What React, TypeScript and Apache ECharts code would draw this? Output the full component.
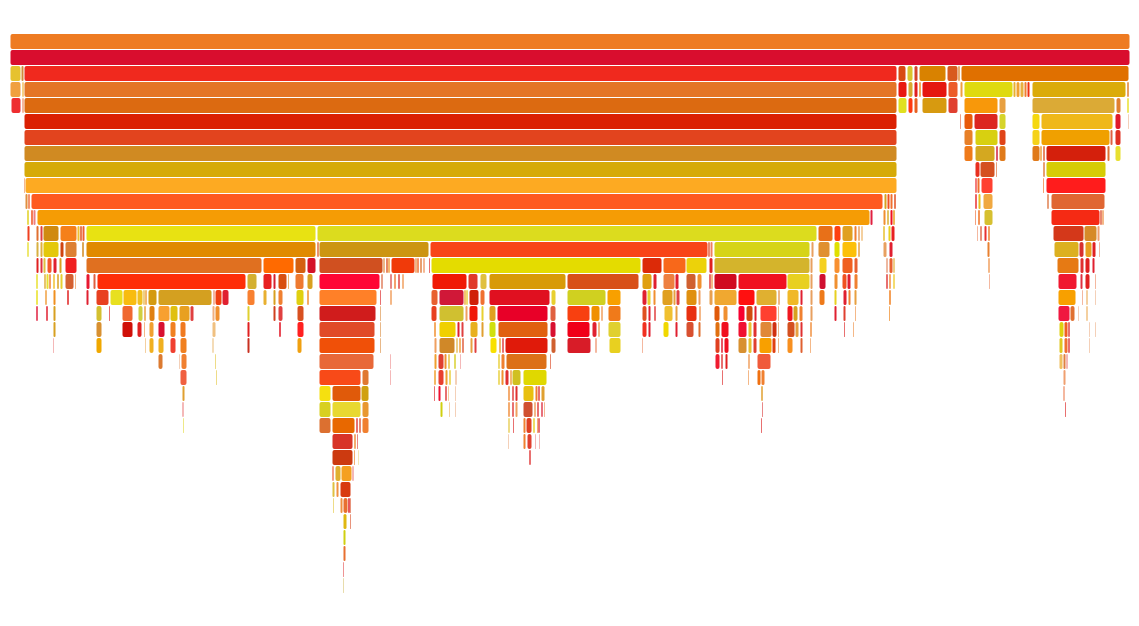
import React, { useEffect, useRef } from "react";
import * as echarts from "echarts";

// Flame graph: each level lists [startSample, endSample] spans (total 1120 samples)
const TOTAL_SAMPLES = 1120;
const DEPTH_SLOTS = 36;

const lv00 = [[0, 1120]];
const lv01 = [[0, 1120]];
const lv02 = [[0, 11], [11, 14], [14, 887], [888, 896], [897, 903], [904, 908], [909, 936], [937, 948], [948, 950], [951, 1119]];
const lv03 = [[0, 11], [12, 14], [14, 887], [888, 897], [898, 903], [904, 908], [909, 911], [912, 937], [938, 948], [950, 953], [954, 1003], [1003, 1006], [1006, 1010], [1010, 1014], [1014, 1017], [1017, 1020], [1022, 1116], [1117, 1119]];
const lv04 = [[1, 11], [12, 14], [14, 887], [888, 897], [898, 903], [904, 908], [912, 937], [938, 948], [954, 988], [989, 996], [1022, 1105], [1106, 1111], [1117, 1119]];
const lv05 = [[14, 887], [950, 951], [954, 963], [964, 988], [989, 996], [1022, 1030], [1031, 1103], [1105, 1111], [1118, 1119]];
const lv06 = [[14, 887], [954, 963], [965, 988], [989, 996], [1022, 1030], [1031, 1100], [1100, 1103], [1105, 1111]];
const lv07 = [[14, 887], [954, 963], [965, 985], [986, 988], [989, 996], [1022, 1030], [1030, 1032], [1033, 1035], [1036, 1096], [1097, 1100], [1105, 1111]];
const lv08 = [[14, 887], [965, 970], [970, 985], [986, 987], [1033, 1035], [1036, 1096]];
const lv09 = [[14, 15], [15, 887], [965, 967], [967, 970], [971, 983], [1033, 1034], [1036, 1096]];
const lv10 = [[15, 18], [18, 20], [21, 873], [874, 877], [877, 880], [880, 883], [884, 886], [965, 967], [968, 971], [973, 983], [1037, 1039], [1041, 1095]];
const lv11 = [[17, 19], [21, 23], [23, 26], [27, 860], [860, 863], [873, 876], [877, 879], [880, 883], [883, 885], [965, 966], [968, 970], [974, 983], [1041, 1090], [1090, 1092], [1092, 1094]];
const lv12 = [[17, 20], [26, 29], [30, 33], [33, 49], [50, 67], [67, 70], [70, 72], [72, 75], [76, 306], [307, 807], [808, 823], [824, 831], [832, 843], [844, 847], [848, 850], [851, 853], [873, 875], [878, 881], [881, 885], [967, 968], [970, 972], [974, 977], [978, 980], [1043, 1074], [1074, 1087], [1087, 1090]];
const lv13 = [[17, 19], [26, 29], [30, 33], [33, 49], [50, 54], [55, 67], [72, 74], [76, 306], [307, 309], [309, 419], [420, 698], [698, 700], [700, 703], [704, 800], [801, 804], [808, 820], [824, 830], [832, 847], [848, 850], [873, 877], [879, 883], [977, 980], [1044, 1069], [1069, 1074], [1075, 1082], [1082, 1086], [1089, 1090]];
const lv14 = [[26, 29], [30, 33], [33, 36], [37, 42], [43, 47], [49, 52], [55, 67], [76, 252], [253, 284], [285, 296], [297, 306], [309, 373], [373, 375], [376, 378], [378, 380], [381, 405], [405, 407], [407, 409], [410, 412], [413, 415], [419, 420], [421, 631], [632, 652], [653, 676], [676, 697], [699, 703], [704, 800], [800, 803], [809, 817], [824, 830], [832, 843], [844, 848], [876, 878], [879, 883], [883, 885], [978, 980], [1047, 1069], [1070, 1074], [1075, 1080], [1082, 1085]];
const lv15 = [[26, 28], [34, 36], [36, 39], [39, 41], [43, 45], [47, 49], [50, 53], [55, 64], [65, 66], [76, 80], [83, 86], [87, 236], [237, 247], [253, 262], [263, 266], [268, 277], [278, 279], [285, 294], [297, 303], [309, 370], [371, 373], [380, 382], [384, 386], [388, 390], [392, 394], [422, 457], [458, 468], [470, 477], [479, 556], [557, 629], [632, 642], [643, 647], [653, 665], [665, 669], [676, 686], [687, 692], [699, 701], [701, 703], [704, 727], [728, 777], [777, 800], [800, 803], [809, 816], [824, 828], [832, 837], [837, 841], [844, 848], [876, 878], [879, 881], [883, 885], [979, 980], [1048, 1067], [1070, 1073], [1075, 1080], [1085, 1086]];
const lv16 = [[26, 28], [35, 37], [43, 46], [57, 59], [76, 79], [86, 99], [100, 113], [113, 127], [127, 133], [133, 135], [135, 137], [138, 147], [148, 202], [203, 205], [205, 212], [212, 219], [237, 245], [253, 257], [263, 266], [268, 273], [286, 294], [297, 299], [309, 367], [370, 371], [380, 382], [421, 428], [429, 454], [454, 456], [456, 458], [459, 469], [470, 475], [479, 540], [541, 546], [557, 596], [597, 611], [632, 637], [637, 641], [643, 646], [652, 663], [663, 666], [666, 670], [676, 687], [688, 691], [699, 703], [704, 727], [728, 745], [746, 767], [768, 770], [777, 789], [790, 793], [800, 803], [809, 815], [824, 827], [833, 837], [838, 841], [844, 847], [879, 881], [1048, 1066], [1072, 1073], [1076, 1078], [1085, 1086]];
const lv17 = [[26, 28], [36, 38], [43, 46], [86, 92], [99, 100], [112, 123], [128, 133], [134, 136], [139, 145], [148, 160], [160, 168], [169, 180], [180, 184], [202, 205], [205, 210], [237, 240], [263, 266], [268, 273], [287, 294], [309, 366], [370, 371], [421, 427], [429, 454], [455, 458], [459, 468], [471, 474], [479, 486], [487, 538], [540, 546], [557, 580], [581, 590], [591, 593], [598, 611], [632, 637], [638, 641], [644, 646], [654, 663], [665, 668], [676, 687], [689, 691], [704, 710], [713, 718], [728, 735], [736, 743], [744, 747], [750, 767], [768, 769], [777, 783], [783, 788], [789, 793], [800, 803], [824, 827], [833, 836], [845, 846], [879, 880], [1048, 1060], [1060, 1065], [1068, 1069], [1076, 1078]];
const lv18 = [[43, 46], [86, 92], [112, 123], [127, 132], [134, 135], [139, 144], [148, 155], [160, 166], [170, 176], [202, 206], [237, 240], [269, 271], [287, 294], [309, 365], [370, 371], [424, 426], [429, 446], [447, 450], [451, 454], [460, 468], [471, 474], [479, 486], [488, 538], [540, 546], [557, 580], [582, 587], [588, 590], [598, 611], [632, 637], [638, 641], [653, 659], [665, 668], [676, 684], [688, 691], [705, 710], [711, 719], [728, 737], [738, 742], [743, 747], [750, 762], [762, 767], [768, 769], [777, 785], [785, 789], [790, 793], [800, 802], [834, 835], [843, 844], [1049, 1054], [1054, 1058], [1058, 1060], [1079, 1080], [1085, 1086]];
const lv19 = [[43, 44], [86, 92], [135, 136], [139, 144], [148, 154], [160, 166], [170, 177], [202, 204], [237, 240], [287, 292], [309, 365], [370, 371], [424, 427], [429, 445], [446, 448], [449, 451], [452, 454], [460, 463], [464, 467], [480, 487], [489, 491], [492, 494], [495, 538], [541, 546], [557, 581], [585, 587], [599, 611], [632, 633], [705, 710], [711, 713], [714, 719], [728, 737], [738, 742], [743, 747], [749, 762], [762, 766], [768, 769], [777, 783], [790, 793], [800, 801], [1049, 1053], [1054, 1058], [1058, 1060], [1079, 1080]];
const lv20 = [[148, 153], [169, 170], [171, 177], [205, 206], [309, 364], [380, 381], [424, 427], [428, 434], [434, 437], [438, 440], [444, 446], [450, 451], [488, 490], [491, 495], [496, 537], [540, 541], [705, 710], [711, 713], [715, 718], [738, 740], [747, 761], [1049, 1053], [1053, 1056], [1056, 1058]];
const lv21 = [[170, 177], [206, 207], [309, 351], [352, 359], [380, 381], [424, 426], [428, 434], [435, 438], [439, 441], [445, 447], [488, 490], [491, 494], [495, 499], [500, 502], [502, 511], [513, 537], [712, 713], [738, 739], [747, 751], [751, 755], [1053, 1056]];
const lv22 = [[172, 175], [309, 321], [322, 351], [351, 359], [424, 425], [428, 431], [435, 437], [438, 439], [445, 446], [498, 500], [502, 504], [505, 508], [513, 524], [525, 528], [528, 530], [531, 535], [751, 753], [1053, 1055]];
const lv23 = [[172, 174], [309, 321], [322, 351], [352, 359], [430, 433], [439, 440], [445, 446], [498, 500], [502, 504], [505, 508], [513, 523], [524, 526], [527, 529], [531, 533], [534, 535], [752, 753], [1055, 1056]];
const lv24 = [[173, 174], [309, 321], [322, 345], [346, 348], [349, 351], [352, 359], [498, 500], [503, 504], [513, 516], [516, 522], [523, 525], [527, 528], [528, 530], [751, 752]];
const lv25 = [[322, 343], [344, 346], [347, 348], [498, 499], [513, 516], [517, 522], [525, 526], [529, 530]];
const lv26 = [[322, 343], [344, 345], [348, 349], [519, 521]];
const lv27 = [[322, 324], [325, 331], [331, 342], [342, 344]];
const lv28 = [[322, 325], [326, 329], [330, 341]];
const lv29 = [[323, 324], [330, 333], [333, 338], [338, 340], [340, 341]];
const lv30 = [[333, 337], [340, 341]];
const lv31 = [[333, 336]];
const lv32 = [[333, 336]];
const lv33 = [[333, 334]];
const lv34 = [[333, 334]];

const levels = [lv00, lv01, lv02, lv03, lv04, lv05, lv06, lv07, lv08, lv09, lv10, lv11, lv12, lv13, lv14, lv15, lv16, lv17, lv18, lv19, lv20, lv21, lv22, lv23, lv24, lv25, lv26, lv27, lv28, lv29, lv30, lv31, lv32, lv33, lv34];

// Colours (styles), parallel to the span lists above
const cl00 = ["#ee7b22"];
const cl01 = ["#d90d2e"];
const cl02 = ["#e6c22f", "#d08a3a", "#f0291e", "#d84b12", "#d9c52d", "#d4452d", "#d98200", "#d85a1f", "#e09040", "#e07000"];
const cl03 = ["#f0a040", "#f0c060", "#e47526", "#e8190f", "#d8a830", "#e02020", "#f09020", "#e5170f", "#ec5b2a", "#f0a040", "#dfda0f", "#e8b030", "#f0a030", "#e8b040", "#f08030", "#f03010", "#dbab0a", "#e08030"];
const cl04 = ["#ee2e30", "#f0a080", "#dc6a11", "#e0e020", "#fe3a10", "#e86020", "#d79a10", "#e04030", "#f8980a", "#e8a040", "#dbaa36", "#e08030", "#e8e030"];
const cl05 = ["#db2002", "#e88060", "#e85a0a", "#dc2620", "#d6d42a", "#f5d80f", "#efb81a", "#e01a2a", "#f0c0a0"];
const cl06 = ["#e2441e", "#e88028", "#d8d010", "#e04418", "#f5d21a", "#f0a000", "#e06040", "#e03020"];
const cl07 = ["#d08a22", "#ef7a1a", "#d4a820", "#d02040", "#e07a1a", "#e07a1a", "#f0a040", "#e06030", "#d4200c", "#e07030", "#e8e030"];
const cl08 = ["#d6aa08", "#e83020", "#d45020", "#e08050", "#e08040", "#d6cc06"];
const cl09 = ["#f0a070", "#fdaa22", "#f05050", "#f07030", "#ff4030", "#f08040", "#ff1c1c"];
const cl10 = ["#e09040", "#f07040", "#fe5a20", "#d8a020", "#f05020", "#f07030", "#e05020", "#e83030", "#e8c020", "#f0a840", "#e08050", "#e06632"];
const cl11 = ["#e0d020", "#f05020", "#f08080", "#f59c05", "#e02040", "#f09030", "#d8b030", "#f01020", "#e8a020", "#f08050", "#f07020", "#d6c030", "#f52a14", "#e06040", "#f0a060"];
const cl12 = ["#f04020", "#e07030", "#e04040", "#d08a10", "#f5801a", "#f0c030", "#e05020", "#f06030", "#e8e212", "#dcdc1e", "#e87018", "#fe4010", "#e0a020", "#f08030", "#e8a060", "#f0c080", "#e8c030", "#e8d020", "#e82020", "#f0a080", "#e07050", "#e83030", "#f08030", "#d4381a", "#d68a28", "#f0a070"];
const cl13 = ["#e8e040", "#d8b040", "#e0b040", "#e4c80a", "#d04410", "#dd8033", "#d08a20", "#e08a00", "#e07040", "#cc9512", "#f84418", "#e06040", "#f08060", "#d6d418", "#e8a060", "#e09030", "#e0e000", "#fcc00a", "#e8a040", "#e8a060", "#e02030", "#e88030", "#dcb020", "#d83030", "#e8a020", "#e02020", "#f0a080"];
const cl14 = ["#e02020", "#e03040", "#e0c040", "#f55a2a", "#e02030", "#d8a020", "#f02020", "#e07020", "#ff6a00", "#d46010", "#d41228", "#d05020", "#e8a060", "#e06030", "#f0a040", "#f03a0a", "#e8a060", "#f07030", "#e08040", "#f0a070", "#e04040", "#e4dc00", "#dc2a08", "#f8681a", "#ecd20a", "#e02020", "#d4b42c", "#e8a060", "#f5d020", "#f89030", "#f06020", "#e86030", "#e8a080", "#e86030", "#e8c060", "#f0a060", "#e67a14", "#e03030", "#e02020", "#e02030"];
const cl15 = ["#e8e030", "#e0b040", "#e8e030", "#f08030", "#f0c030", "#d8a020", "#e8d030", "#d46030", "#f0a060", "#e81830", "#e06040", "#fe2e08", "#d4b030", "#e82020", "#d82030", "#d85010", "#e8a040", "#ee7a30", "#d8a020", "#ff0535", "#e08060", "#e06060", "#f08040", "#e04040", "#f0a060", "#f01a05", "#e03a2a", "#e0c040", "#d89a08", "#d85018", "#e0a010", "#e02030", "#ee8040", "#e02030", "#d06030", "#f09030", "#e04040", "#f0a060", "#d00a20", "#f01020", "#e8d020", "#e8a060", "#d01030", "#f09030", "#f05020", "#e02030", "#f08030", "#e04040", "#f09040", "#f0d040", "#f0a080", "#f01830", "#e03040", "#e02020", "#f0a080"];
const cl16 = ["#e8e020", "#f0a040", "#f09020", "#e02020", "#e02030", "#e84020", "#e8e020", "#f8bc10", "#f0c020", "#e8c060", "#f0a040", "#d49a10", "#d4a020", "#f0a080", "#f04010", "#e02030", "#f88030", "#e8b030", "#d8a020", "#f08030", "#e0d010", "#f09030", "#ff8028", "#e04040", "#f0a060", "#e86030", "#d01838", "#f0b040", "#e8d040", "#d02008", "#f07030", "#e01020", "#e8d030", "#d0d020", "#f8a000", "#e02030", "#e8d030", "#f09030", "#e0a020", "#e8a040", "#e04040", "#e09010", "#f0a060", "#e8a050", "#f0a830", "#ff1010", "#e0b030", "#e8a060", "#f0b828", "#e02030", "#e8a060", "#ee7a1a", "#e8d020", "#e02030", "#f08030", "#e8a040", "#f08020", "#f8a000", "#f0a080", "#f0c080", "#f0c0a0"];
const cl17 = ["#e02040", "#e02030", "#d8a020", "#d4c030", "#e04040", "#f06830", "#d0d040", "#e8a040", "#e08010", "#f8a030", "#e0c010", "#e8a020", "#e04040", "#f0b080", "#f09030", "#e0d030", "#d04020", "#e04040", "#d85020", "#d01c1c", "#e0a060", "#e84020", "#d0c030", "#f0a060", "#f01808", "#e8d030", "#e0a020", "#e80028", "#e06040", "#f84010", "#f09000", "#f0a060", "#f07a1a", "#e05020", "#e02030", "#e04040", "#f0c030", "#e8a040", "#e83010", "#f0a060", "#e05a0a", "#f09030", "#f80030", "#d04a10", "#e02030", "#ff4030", "#e8a060", "#f01820", "#d8a020", "#f08030", "#e8a060", "#e02030", "#e04030", "#f0a060", "#f09030", "#f01840", "#e07030", "#f0c0a0", "#f0c080"];
const cl18 = ["#d8a020", "#d89030", "#d01008", "#e02020", "#f0a060", "#f0a030", "#d81030", "#f08020", "#f07a20", "#f0c080", "#e02020", "#e01020", "#ff2020", "#e04a28", "#e0a060", "#f09030", "#f0d000", "#e02030", "#e04040", "#e8b020", "#e0a030", "#d0e010", "#e06010", "#d81030", "#f00018", "#e02030", "#f0a060", "#e0d030", "#f03020", "#e02030", "#f0d800", "#e02030", "#d85030", "#e07030", "#e07010", "#f01020", "#f01030", "#e8c030", "#e03030", "#e08838", "#d03010", "#e8a060", "#d45020", "#e8a040", "#e03030", "#f09040", "#e04040", "#f0a060", "#e0d010", "#f06020", "#e04040", "#f0c0a0", "#f0c0a0"];
const cl19 = ["#f0a0a0", "#f0a800", "#f0c080", "#f0b020", "#f0b020", "#f04030", "#f08020", "#f0d0a0", "#c83020", "#f0a010", "#f05008", "#e0a060", "#f0a060", "#d08828", "#e8c060", "#f0a040", "#e06040", "#e8a040", "#e04040", "#f8e000", "#e8a040", "#e04040", "#e01a0a", "#d06030", "#d81c28", "#f0a080", "#e8d020", "#f0a080", "#e04020", "#e02030", "#f01020", "#d89030", "#e8c030", "#e04030", "#f8a000", "#e04010", "#e8a060", "#f89020", "#e06030", "#f0a060", "#e0c820", "#f07030", "#e04040", "#f0c0a0"];
const cl20 = ["#dc7a30", "#f0c0a0", "#f08030", "#e8d060", "#e86838", "#f0a0a0", "#f0a030", "#e04030", "#f09030", "#e8c040", "#d8d030", "#f0a0a0", "#e8d040", "#f08030", "#dc7018", "#e06040", "#f01c30", "#e04040", "#e02020", "#f0a060", "#f05a3a", "#f0c060", "#e08040", "#f0a0a0"];
const cl21 = ["#f06040", "#e8d060", "#f84a18", "#e07830", "#f0a0a0", "#f0a030", "#e84030", "#f0a030", "#e8d040", "#f0c0a0", "#e8d040", "#f09030", "#e03030", "#f0a040", "#d0c020", "#e0d800", "#e04040", "#f0a060", "#f07010", "#f08030", "#f0a070"];
const cl22 = ["#e0a030", "#f5e010", "#e05a0a", "#d0a010", "#e04040", "#f01030", "#e04040", "#f0c080", "#f0c0a0", "#f09040", "#e04040", "#e03030", "#e8c010", "#f08030", "#e04040", "#e0a030", "#e0a030", "#f0a080"];
const cl23 = ["#f0a0a0", "#d8d020", "#e8d830", "#e89830", "#d0d010", "#f0c080", "#f0c0a0", "#f09040", "#e04040", "#f0a060", "#d05030", "#f0a060", "#e04040", "#e04050", "#f0a070", "#e06060", "#e04040"];
const cl24 = ["#e8e060", "#dc7030", "#e86800", "#e04040", "#e06040", "#f08030", "#e8d060", "#e04040", "#f08030", "#e04020", "#e8d030", "#f09040", "#e04040", "#e04040"];
const cl25 = ["#d83428", "#f09040", "#e06060", "#f0c0a0", "#f08030", "#e04030", "#f0a0a0", "#f0a0a0"];
const cl26 = ["#cc3a10", "#f09040", "#f0e0a0", "#e04040"];
const cl27 = ["#f08060", "#e0b030", "#f5a020", "#f0a0a0"];
const cl28 = ["#e0c040", "#f09040", "#d83a10"];
const cl29 = ["#e8d060", "#f09040", "#e87030", "#e02020", "#e07050"];
const cl30 = ["#e0b810", "#e07050"];
const cl31 = ["#d0d010"];
const cl32 = ["#e87030"];
const cl33 = ["#e87070"];
const cl34 = ["#e0d090"];

const levelColors = [cl00, cl01, cl02, cl03, cl04, cl05, cl06, cl07, cl08, cl09, cl10, cl11, cl12, cl13, cl14, cl15, cl16, cl17, cl18, cl19, cl20, cl21, cl22, cl23, cl24, cl25, cl26, cl27, cl28, cl29, cl30, cl31, cl32, cl33, cl34];

export default function App() {
  const ref = useRef<HTMLDivElement>(null);

  useEffect(() => {
    if (!ref.current) return;
    const chart = echarts.init(ref.current, null, { renderer: "svg" });

    const data: any[] = [];
    levels.forEach((spans, level) => {
      const colors = levelColors[level] || [];
      spans.forEach((span, i) => {
        data.push({
          value: [level, span[0], span[1]],
          itemStyle: { color: colors[i] || "#f08030" },
        });
      });
    });

    chart.setOption({
      animation: false,
      tooltip: { show: false },
      grid: { left: 10, right: 9, top: 33.5, height: 576 },
      xAxis: { type: "value", min: 0, max: TOTAL_SAMPLES, show: false },
      yAxis: { type: "value", min: 0, max: DEPTH_SLOTS, inverse: true, show: false },
      series: [
        {
          type: "custom",
          encode: { x: [1, 2], y: 0 },
          data,
          renderItem: (params: any, api: any) => {
            const level = api.value(0);
            const start = api.coord([api.value(1), level]);
            const end = api.coord([api.value(2), level]);
            const h = api.size([0, 1])[1];
            const w = end[0] - start[0];
            const inset = w > 2 ? 0.5 : 0;
            const width = Math.max(w - 2 * inset, 1);
            const height = h - 1;
            return {
              type: "rect",
              shape: {
                x: start[0] + inset,
                y: start[1] + 0.5,
                width,
                height,
                r: Math.min(2, width / 2),
              },
              style: { fill: api.visual("color"), opacity: w > 2 ? 1 : 0.75 },
            };
          },
        },
      ],
    });

    return () => chart.dispose();
  }, []);

  return (
    <div
      ref={ref}
      style={{ position: "absolute", left: 0, top: 0, width: 1139, height: 626 }}
    />
  );
}
